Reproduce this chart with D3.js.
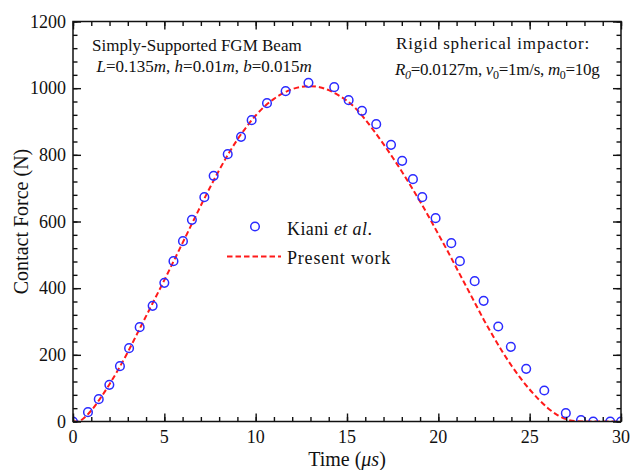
<!DOCTYPE html>
<html>
<head>
<meta charset="utf-8">
<script src="https://cdn.jsdelivr.net/npm/d3@7"></script>
<style>
  html, body { margin: 0; padding: 0; background: #fff; }
  svg { display: block; }
  text { font-family: "Liberation Serif", "Times New Roman", serif; fill: #111; }
</style>
</head>
<body>
<svg id="chart" width="631" height="470"></svg>
<script>
// ---------- data ----------
const kianiTime = [0.0, 0.82, 1.41, 1.99, 2.57, 3.07, 3.65, 4.36, 5.0, 5.5, 6.02, 6.51, 7.19, 7.7, 8.47, 9.2, 9.78, 10.62, 11.64, 12.89,
  14.3, 15.09, 15.82, 16.6, 17.41, 18.02, 18.61, 19.12, 19.85, 20.71, 21.18, 21.99, 22.48, 23.28, 23.97, 24.81, 25.8, 26.98, 27.81, 28.48, 29.41, 30.0];
const kianiForce = [0, 28, 67, 110, 166, 220, 283, 347, 416, 481, 541, 605, 673, 737, 802, 854, 904, 955, 991, 1016,
  1003, 964, 932, 892, 830, 782, 727, 673, 610, 535, 481, 421, 362, 285, 224, 158, 93, 25, 4, 0, 0, 0];

const presentTime = [0, 0.3, 0.5, 1, 1.5, 2, 2.5, 3, 3.5, 4, 4.5, 5, 5.5, 6, 6.5, 7, 7.5, 8, 8.5, 9, 9.5, 10, 10.5, 11, 11.5, 12, 12.5, 13,
  13.5, 14, 14.5, 15, 15.5, 16, 16.5, 17, 17.5, 18, 18.5, 19, 19.5, 20, 20.5, 21, 21.5, 22, 22.5, 23, 23.5, 24, 24.5, 25, 25.5, 26, 26.5, 27, 27.5, 28, 29, 30];
const presentForce = [0, 0, 6, 33, 70, 112, 158, 208, 262, 316, 370, 424, 480, 536, 592, 648, 702, 754, 802, 846, 884, 918, 946, 968, 985, 997, 1004, 1006,
  1003, 994, 980, 962, 938, 906, 870, 832, 792, 750, 706, 660, 612, 562, 512, 460, 408, 356, 304, 256, 210, 168, 130, 96, 66, 40, 20, 7, 1, 0, 0, 0];

const xMajorTicks = [0, 5, 10, 15, 20, 25, 30];
const yMajorTicks = [0, 200, 400, 600, 800, 1000, 1200];
const xLabel = "Time (";
const yLabel = "Contact Force (N)";
const seriesNames = ["Kiani", "Present work"];

// ---------- layout ----------
const svg = d3.select("#chart");
const L = 73, R = 621, T = 21.5, B = 421.5;
const x = d3.scaleLinear().domain([0, 30]).range([L, R]);
const y = d3.scaleLinear().domain([0, 1200]).range([B, T]);

const blue = "#2b2bff", red = "#ff1a1a";

// clip
svg.append("clipPath").attr("id", "clip").append("rect")
  .attr("x", L).attr("y", T).attr("width", R - L).attr("height", B - T);

const plot = svg.append("g").attr("clip-path", "url(#clip)");

// present work dashed line
const line = d3.line().x((d, i) => x(presentTime[i])).y((d) => y(d)).curve(d3.curveMonotoneX);
plot.append("path").datum(presentForce)
  .attr("d", line)
  .attr("fill", "none").attr("stroke", red).attr("stroke-width", 2)
  .attr("stroke-dasharray", "5.5,3");

// kiani circles
plot.selectAll("circle.k").data(kianiForce).enter().append("circle")
  .attr("class", "k")
  .attr("cx", (d, i) => x(kianiTime[i]))
  .attr("cy", d => y(d))
  .attr("r", 4.3)
  .attr("fill", "none").attr("stroke", blue).attr("stroke-width", 1.5);

// ---------- axes ----------
const minorX = d3.range(0, 31, 1);
const minorY = d3.range(0, 1201, 40);
const majorLen = 8, minorLen = 4.5;

function drawAxis(gen, transform, ticks, len) {
  svg.append("g").attr("transform", transform)
    .call(gen.tickValues(ticks).tickSize(len).tickFormat(""))
    .call(g => g.select(".domain").remove())
    .selectAll("line").attr("stroke", "#111").attr("stroke-width", 1.4);
}
// bottom (inward ticks)
drawAxis(d3.axisTop(x), `translate(0,${B})`, minorX, minorLen);
drawAxis(d3.axisTop(x), `translate(0,${B})`, xMajorTicks, majorLen);
// top
drawAxis(d3.axisBottom(x), `translate(0,${T})`, minorX, minorLen);
drawAxis(d3.axisBottom(x), `translate(0,${T})`, xMajorTicks, majorLen);
// left
drawAxis(d3.axisRight(y), `translate(${L},0)`, minorY, minorLen);
drawAxis(d3.axisRight(y), `translate(${L},0)`, yMajorTicks, majorLen);
// right
drawAxis(d3.axisLeft(y), `translate(${R},0)`, minorY, minorLen);
drawAxis(d3.axisLeft(y), `translate(${R},0)`, yMajorTicks, majorLen);

// frame
svg.append("rect").attr("x", L).attr("y", T).attr("width", R - L).attr("height", B - T)
  .attr("fill", "none").attr("stroke", "#111").attr("stroke-width", 1.5);

// tick labels
svg.append("g").selectAll("text").data(xMajorTicks).enter().append("text")
  .attr("x", d => x(d)).attr("y", B + 21).attr("text-anchor", "middle")
  .attr("font-size", 18).text(d => d);
svg.append("g").selectAll("text").data(yMajorTicks).enter().append("text")
  .attr("x", L - 7).attr("y", d => y(d) + 6).attr("text-anchor", "end")
  .attr("font-size", 18).text(d => d);

// axis titles
const xt = svg.append("text").attr("x", (L + R) / 2).attr("y", 466).attr("text-anchor", "middle").attr("font-size", 20);
xt.append("tspan").text(xLabel);
xt.append("tspan").attr("font-style", "italic").text("\u03bcs");
xt.append("tspan").text(")");

svg.append("text").attr("transform", `translate(28,${(T + B) / 2}) rotate(-90)`)
  .attr("text-anchor", "middle").attr("font-size", 20).text(yLabel);

// annotations
svg.append("text").attr("x", 92).attr("y", 51).attr("font-size", 17).text("Simply-Supported FGM Beam");
const a2 = svg.append("text").attr("x", 96.5).attr("y", 72).attr("font-size", 17);
[["L", 1], ["=0.135", 0], ["m", 1], [", ", 0], ["h", 1], ["=0.01", 0], ["m", 1], [", ", 0], ["b", 1], ["=0.015", 0], ["m", 1]]
  .forEach(([t, it]) => a2.append("tspan").attr("font-style", it ? "italic" : "normal").text(t));

svg.append("text").attr("x", 396).attr("y", 49).attr("font-size", 17)
  .attr("letter-spacing", 0.85).text("Rigid spherical impactor:");
const b2 = svg.append("text").attr("x", 395).attr("y", 75).attr("font-size", 17).attr("letter-spacing", -0.3);
function sub(g, base, baseItalic, s, subItalic) {
  g.append("tspan").attr("font-style", baseItalic ? "italic" : "normal").text(base);
  g.append("tspan").attr("font-size", 12).attr("dy", 4).attr("font-style", subItalic ? "italic" : "normal").text(s);
  return g;
}
sub(b2, "R", 1, "0", 1);
b2.append("tspan").attr("dy", -4).text("=0.0127m, ");
sub(b2, "v", 1, "0", 0);
b2.append("tspan").attr("dy", -4).text("=1m/s, ");
sub(b2, "m", 1, "0", 0);
b2.append("tspan").attr("dy", -4).text("=10g");

// legend
svg.append("circle").attr("cx", 255).attr("cy", 226.5).attr("r", 4.3)
  .attr("fill", "none").attr("stroke", blue).attr("stroke-width", 1.5);
const lt = svg.append("text").attr("x", 287).attr("y", 235).attr("font-size", 18).attr("letter-spacing", 0.4);
lt.append("tspan").text(seriesNames[0] + " ");
lt.append("tspan").attr("font-style", "italic").text("et al");
lt.append("tspan").text(".");
svg.append("line").attr("x1", 227).attr("x2", 281).attr("y1", 256.5).attr("y2", 256.5)
  .attr("stroke", red).attr("stroke-width", 2).attr("stroke-dasharray", "5.5,3");
svg.append("text").attr("x", 287).attr("y", 264).attr("font-size", 18).attr("letter-spacing", 0.8).text(seriesNames[1]);
</script>
</body>
</html>
